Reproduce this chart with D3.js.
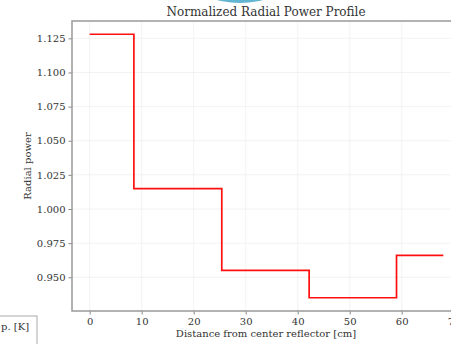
<html>
<meta charset="utf-8" />
<head>
<title>
	Normalized Radial Power Profile
</title>

<script src="https://cdn.jsdelivr.net/npm/d3@7/dist/d3.min.js" type="text/Javascript"></script>

<style>
	body { margin: 0; background: white; }
	svg { display: block; font-family: "DejaVu Serif", serif; }
</style>

<script>
// ring boundaries [cm] and normalized power of each ring
let ringEdges = [0, 8.5, 25.4, 42.2, 59.0, 68.0];
let ringPower = [1.128, 1.015, 0.955, 0.935, 0.966];

let xTicks = [0, 10, 20, 30, 40, 50, 60, 70];
let yTicks = [0.950, 0.975, 1.000, 1.025, 1.050, 1.075, 1.100, 1.125];

let titleText = 'Normalized Radial Power Profile';
let xLabelText = 'Distance from center reflector [cm]';
let yLabelText = 'Radial power';
let legendText = 'p. [K]';

window.onload = function() {
	let svg = d3.select('svg');

	let xScale = d3.scaleLinear().domain([-3.4, 71.4]).range([72, 461]);
	let yScale = d3.scaleLinear().domain([0.9253, 1.1377]).range([311, 21]);

	// neighbouring figure peeking in at the top
	svg.append('circle')
	.attr('cx', 240).attr('cy', -87).attr('r', 90)
	.attr('fill', '#62b5d0');

	// grid
	svg.append('g').selectAll('line.xg')
	.data(xTicks).enter()
	.append('line')
	.attr('x1', (d) => { return xScale(d); })
	.attr('x2', (d) => { return xScale(d); })
	.attr('y1', 21).attr('y2', 311)
	.attr('stroke', '#efefef').attr('stroke-width', 0.8);

	svg.append('g').selectAll('line.yg')
	.data(yTicks).enter()
	.append('line')
	.attr('y1', (d) => { return yScale(d); })
	.attr('y2', (d) => { return yScale(d); })
	.attr('x1', 72).attr('x2', 461)
	.attr('stroke', '#efefef').attr('stroke-width', 0.8);

	// axes
	let xAxis = d3.axisBottom(xScale).tickValues(xTicks).tickSize(3.5).tickPadding(3).tickFormat(d3.format('d'));
	let yAxis = d3.axisLeft(yScale).tickValues(yTicks).tickSize(3.5).tickPadding(3).tickFormat(d3.format('.3f'));

	let xG = svg.append('g').attr('transform', 'translate(0,311)').call(xAxis);
	let yG = svg.append('g').attr('transform', 'translate(72,0)').call(yAxis);

	[xG, yG].forEach((g) => {
		g.select('.domain').remove();
		g.selectAll('.tick line').attr('stroke', '#888').attr('stroke-width', 1);
		g.selectAll('.tick text').attr('fill', '#333').style('font-size', '10px').style('font-family', '"DejaVu Serif", serif');
	});

	// spines (left, top, bottom)
	svg.append('path')
	.attr('d', 'M461,21 H72 V311 H461')
	.attr('fill', 'none')
	.attr('stroke', '#999')
	.attr('stroke-width', 1.5);

	// step profile
	let steps = ringPower.map((p, i) => { return { x: ringEdges[i], y: p }; });
	steps.push({ x: ringEdges[ringEdges.length - 1], y: ringPower[ringPower.length - 1] });

	let stepLine = d3.line()
	.x((d) => { return xScale(d.x); })
	.y((d) => { return yScale(d.y); })
	.curve(d3.curveStepAfter);

	svg.append('path')
	.attr('d', stepLine(steps))
	.attr('fill', 'none')
	.attr('stroke', '#ff1010')
	.attr('stroke-width', 1.7);

	// texts
	svg.append('text')
	.attr('x', 266).attr('y', 16)
	.attr('text-anchor', 'middle')
	.attr('fill', '#333')
	.style('font-size', '12px')
	.text(titleText);

	svg.append('text')
	.attr('x', 266).attr('y', 337)
	.attr('text-anchor', 'middle')
	.attr('fill', '#333')
	.style('font-size', '10px')
	.text(xLabelText);

	svg.append('text')
	.attr('transform', 'translate(31,166) rotate(-90)')
	.attr('text-anchor', 'middle')
	.attr('fill', '#333')
	.style('font-size', '10px')
	.text(yLabelText);

	// legend of the neighbouring plot, cut at the corner
	svg.append('rect')
	.attr('x', -10).attr('y', 316).attr('width', 47).attr('height', 40)
	.attr('fill', 'white')
	.attr('stroke', '#aaa').attr('stroke-width', 1);

	svg.append('text')
	.attr('x', 1).attr('y', 330)
	.attr('fill', '#333')
	.style('font-size', '10px')
	.text(legendText);
}
</script>
</head>
<body>
<svg width="451" height="344"></svg>
</body>
</html>
